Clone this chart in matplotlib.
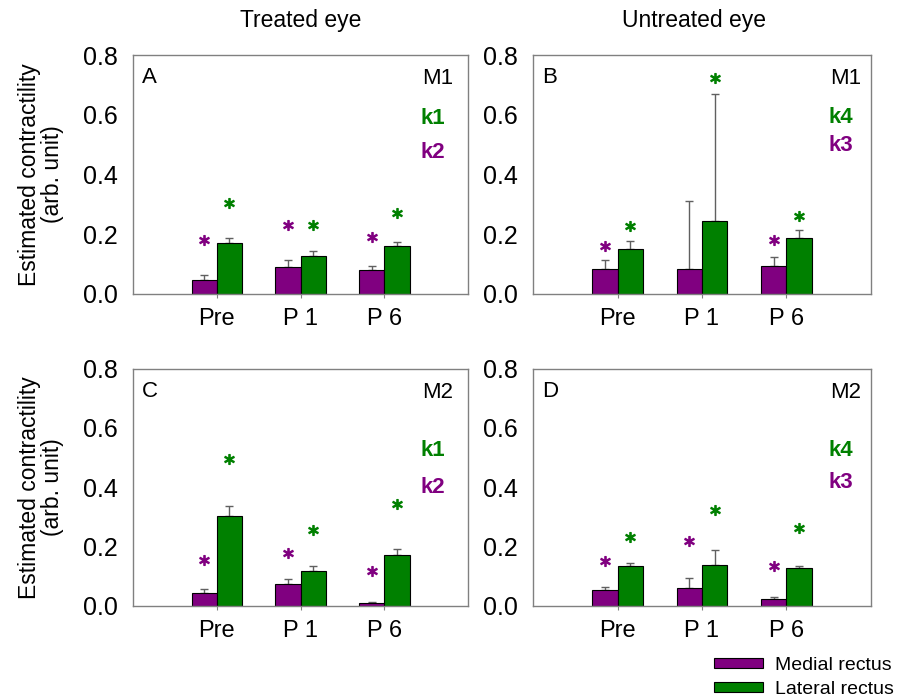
import matplotlib
matplotlib.use("Agg")
import matplotlib.pyplot as plt
import matplotlib.patches as mpatches
import numpy as np

plt.rcParams['font.family'] = ['Liberation Sans', 'DejaVu Sans']

groups = ['Pre', 'P 1', 'P 6']
purple = '#800080'
green = '#008000'

# panel A: treated eye, M1
a_med = [0.048, 0.091, 0.079]
a_med_err = [0.016, 0.024, 0.014]
a_lat = [0.170, 0.128, 0.159]
a_lat_err = [0.017, 0.017, 0.014]
a_med_star = [0.180, 0.232, 0.190]
a_lat_star = [0.305, 0.232, 0.270]

# panel B: untreated eye, M1
b_med = [0.083, 0.083, 0.092]
b_med_err = [0.030, 0.227, 0.031]
b_lat = [0.149, 0.245, 0.186]
b_lat_err = [0.027, 0.426, 0.027]
b_med_star = [0.162, None, 0.179]
b_lat_star = [0.227, 0.724, 0.262]

# panel C: treated eye, M2
c_med = [0.044, 0.073, 0.009]
c_med_err = [0.013, 0.018, 0.004]
c_lat = [0.304, 0.118, 0.171]
c_lat_err = [0.032, 0.015, 0.020]
c_med_star = [0.155, 0.178, 0.116]
c_lat_star = [0.496, 0.256, 0.343]

# panel D: untreated eye, M2
d_med = [0.053, 0.061, 0.024]
d_med_err = [0.009, 0.034, 0.006]
d_lat = [0.133, 0.138, 0.127]
d_lat_err = [0.010, 0.049, 0.006]
d_med_star = [0.152, 0.220, 0.133]
d_lat_star = [0.232, 0.324, 0.263]

panels = [
    ('A', 'M1', ('k1', 'k2'), a_med, a_med_err, a_lat, a_lat_err, a_med_star, a_lat_star),
    ('B', 'M1', ('k4', 'k3'), b_med, b_med_err, b_lat, b_lat_err, b_med_star, b_lat_star),
    ('C', 'M2', ('k1', 'k2'), c_med, c_med_err, c_lat, c_lat_err, c_med_star, c_lat_star),
    ('D', 'M2', ('k4', 'k3'), d_med, d_med_err, d_lat, d_lat_err, d_med_star, d_lat_star),
]

# axes rectangles in figure fractions
rects = [
    [0.147, 0.579, 0.371, 0.342],
    [0.590, 0.579, 0.373, 0.342],
    [0.147, 0.132, 0.371, 0.340],
    [0.590, 0.132, 0.373, 0.340],
]
# y positions (axes fraction) of M / k labels
klab_y = [
    (0.904, 0.736, 0.594),
    (0.904, 0.740, 0.623),
    (0.900, 0.654, 0.498),
    (0.900, 0.654, 0.520),
]
klab_x = [(0.955, 0.930), (0.973, 0.947), (0.955, 0.930), (0.973, 0.947)]

fig = plt.figure(figsize=(9.04, 6.98), dpi=100)
x = np.arange(len(groups))
w = 0.3
spine_c = '#808080'

for i, (letter, mlab, ks, med, med_err, lat, lat_err, mstar, lstar) in enumerate(panels):
    ax = fig.add_axes(rects[i])
    ax.bar(x - w / 2, med, w, color=purple, edgecolor='black', linewidth=0.8, zorder=2)
    ax.bar(x + w / 2, lat, w, color=green, edgecolor='black', linewidth=0.8, zorder=2)
    ax.errorbar(x - w / 2, med, yerr=[np.zeros(3), med_err], fmt='none',
                ecolor='#606060', elinewidth=1, capsize=3, capthick=1, zorder=1)
    ax.errorbar(x + w / 2, lat, yerr=[np.zeros(3), lat_err], fmt='none',
                ecolor='#606060', elinewidth=1, capsize=3, capthick=1, zorder=1)
    for j in range(3):
        if mstar[j] is not None:
            ax.plot(x[j] - w / 2, mstar[j], marker='$*$', ms=7, color=purple, ls='none')
        if lstar[j] is not None:
            ax.plot(x[j] + w / 2, lstar[j], marker='$*$', ms=7, color=green, ls='none')

    ax.set_xlim(-1, 3)
    ax.set_ylim(0, 0.8)
    ax.set_yticks([0, 0.2, 0.4, 0.6, 0.8])
    ax.set_yticklabels(['0.0', '0.2', '0.4', '0.6', '0.8'])
    ax.set_xticks(x)
    ax.set_xticklabels(groups)
    ax.tick_params(axis='y', length=0, pad=11, labelsize=18)
    ax.tick_params(axis='x', length=3, direction='out', color=spine_c, pad=7, labelsize=17)
    for s in ax.spines.values():
        s.set_color(spine_c)
        s.set_linewidth(1)

    ax.text(0.027, 0.905, letter, transform=ax.transAxes, fontsize=16, va='center', ha='left')
    ax.text(klab_x[i][0], klab_y[i][0], mlab, transform=ax.transAxes, fontsize=16,
            va='center', ha='right')
    ax.text(klab_x[i][1], klab_y[i][1], ks[0], transform=ax.transAxes, fontsize=16,
            va='center', ha='right', color=green, fontweight='bold')
    ax.text(klab_x[i][1], klab_y[i][2], ks[1], transform=ax.transAxes, fontsize=16,
            va='center', ha='right', color=purple, fontweight='bold')

    if i in (0, 2):
        bb = rects[i]
        fig.text(41 / 904, bb[1] + bb[3] / 2, 'Estimated contractility\n(arb. unit)',
                 fontsize=16.5, rotation=90, ha='center', va='center',
                 multialignment='center', linespacing=1.0)

fig.text(301 / 904, 1 - 20 / 698, 'Treated eye', fontsize=16.5, ha='center', va='center')
fig.text(694 / 904, 1 - 20 / 698, 'Untreated eye', fontsize=16.5, ha='center', va='center')

handles = [mpatches.Patch(facecolor=purple, edgecolor='black', linewidth=0.8, label='Medial rectus'),
           mpatches.Patch(facecolor=green, edgecolor='black', linewidth=0.8, label='Lateral rectus')]
fig.legend(handles=handles, loc='upper left', bbox_to_anchor=(714 / 904, 1 - 657 / 698),
           frameon=False, fontsize=14, handlelength=2.5, handleheight=0.45,
           handletextpad=0.65, labelspacing=0.35, borderaxespad=0, borderpad=0)

fig.savefig('out.png', dpi=100)
